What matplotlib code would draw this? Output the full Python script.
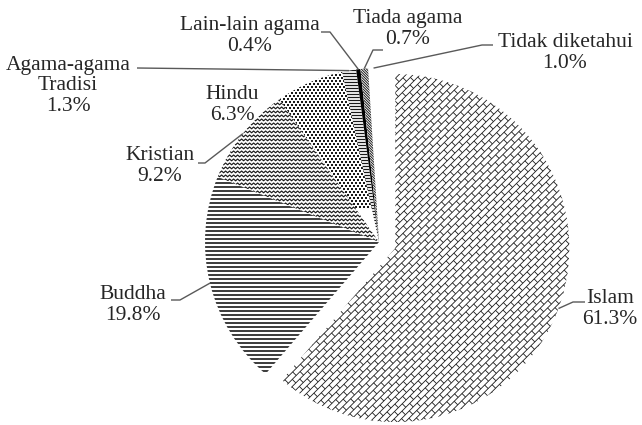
import numpy as np
import matplotlib
matplotlib.use("Agg")
import matplotlib.pyplot as plt
from matplotlib.collections import LineCollection

# DATA
labels = ["Islam", "Buddha", "Kristian", "Hindu", "Agama-agama\nTradisi",
          "Lain-lain agama", "Tiada agama", "Tidak diketahui"]
shares = [61.3, 19.8, 9.2, 6.3, 1.3, 0.4, 0.7, 1.0]
pct_text = ["61.3%", "19.8%", "9.2%", "6.3%", "1.3%", "0.4%", "0.7%", "1.0%"]

# LAYOUT (pixels of the 642x425 picture)
W, H = 642, 425
CX, CY, R = 379, 242, 174          # pie centre and radius in pixels
PX = 1.0 / R                       # one pixel in data units


def p2d(px, py):
    return (px - CX) / R, (CY - py) / R


fig = plt.figure(figsize=(W / 100, H / 100), dpi=100)
ax = fig.add_axes([0, 0, 1, 1])

wedges, _ = ax.pie(shares, startangle=90, counterclock=False, radius=1,
                   explode=[0.1, 0, 0, 0, 0, 0, 0, 0],
                   colors=["white"] * len(shares),
                   wedgeprops=dict(linewidth=0))
ax.set_xlim(-CX / R, (W - CX) / R)
ax.set_ylim(-(H - CY) / R, CY / R)
ax.set_aspect("equal")
ax.axis("off")

INK = "#1a1a1a"


def clip_add(artist, wedge):
    ax.add_collection(artist)
    artist.set_clip_path(wedge)


#--- Islam: diagonal bricks
def bricks(w):
    cx, cy = w.center
    a = np.deg2rad(45)
    cu, su = np.cos(a), np.sin(a)
    s, L, E = 5.0 * PX, 11.0 * PX, 1.3
    segs = []
    for k in np.arange(-int(E / s), int(E / s) + 1):
        v = k * s
        segs.append([(cx - E * cu - v * su, cy - E * su + v * cu),
                     (cx + E * cu - v * su, cy + E * su + v * cu)])
        off = (k % 2) * L / 2
        for u in np.arange(-E, E, L) + off:
            segs.append([(cx + u * cu - v * su, cy + u * su + v * cu),
                         (cx + u * cu - (v + s) * su, cy + u * su + (v + s) * cu)])
    clip_add(LineCollection(segs, linewidths=0.6, colors=INK), w)


#--- horizontal lines
def hlines(w, sp, lw):
    ys = np.arange(-1.2, 1.2, sp * PX)
    segs = [[(-1.2, y), (0.2, y)] for y in ys]
    clip_add(LineCollection(segs, linewidths=lw, colors=INK), w)


#--- zigzag rows
def zigzag(w):
    segs = []
    xs = np.arange(-1.1, 0.2, 2 * PX)
    for y in np.arange(-0.2, 1.1, 4 * PX):
        yy = y + np.where(np.arange(len(xs)) % 2 == 0, 0, 1.8 * PX)
        segs.append(np.column_stack([xs, yy]))
    clip_add(LineCollection(segs, linewidths=0.85, colors=INK), w)


#--- checker dots
def dots(w):
    sx, sy = 4.0 * PX, 3.0 * PX
    xs, ys = [], []
    for j, y in enumerate(np.arange(0.2, 1.05, sy)):
        for x in np.arange(-0.8, 0.1, sx) + (j % 2) * sx / 2:
            xs.append(x)
            ys.append(y)
    sc = ax.scatter(xs, ys, s=3.2, marker="s", c=INK, linewidths=0)
    sc.set_clip_path(w)


#--- diagonal lines
def diag(w, sp):
    segs = []
    for c in np.arange(-2.5, 2.5, sp * PX):
        segs.append([(-1.2, c + 1.2), (1.2, c - 1.2)])
    clip_add(LineCollection(segs, linewidths=0.7, colors=INK), w)


bricks(wedges[0])
hlines(wedges[1], 4.0, 1.2)
zigzag(wedges[2])
dots(wedges[3])
hlines(wedges[4], 3.0, 0.9)
wedges[5].set_facecolor("black")
diag(wedges[6], 2.6)


def anchor(w, r=1.0):
    t = np.deg2rad((w.theta1 + w.theta2) / 2)
    return w.center[0] + r * np.cos(t), w.center[1] + r * np.sin(t)


# label centres (px) and leader bends (px)
label_pos = [(610, 309), (133, 305), (160, 166), (232, 105), (68, 86),
             (250, 36), (408, 29), (565, 53)]
leaders = [[(573, 302), (585, 302)],
           [(180, 300), (171, 300)],
           [(205, 163), (198, 163)],
           None,
           [(137, 68)],
           [(330, 32), (321, 32)],
           [(373, 50), (383, 50)],
           [(482, 45), (493, 45)]]

for w, lab, pct, pos, ld in zip(wedges, labels, pct_text, label_pos, leaders):
    x, y = p2d(*pos)
    ax.text(x, y, lab + "\n" + pct, ha="center", va="center", ma="center",
            family="Liberation Serif", fontsize=15.5, color="#262626",
            linespacing=1.08)
    if ld:
        pts = [anchor(w)] + [p2d(*p) for p in ld]
        ax.plot([p[0] for p in pts], [p[1] for p in pts], color="#595959",
                lw=1.0, solid_capstyle="butt")

plt.savefig("out.png", dpi=100)
